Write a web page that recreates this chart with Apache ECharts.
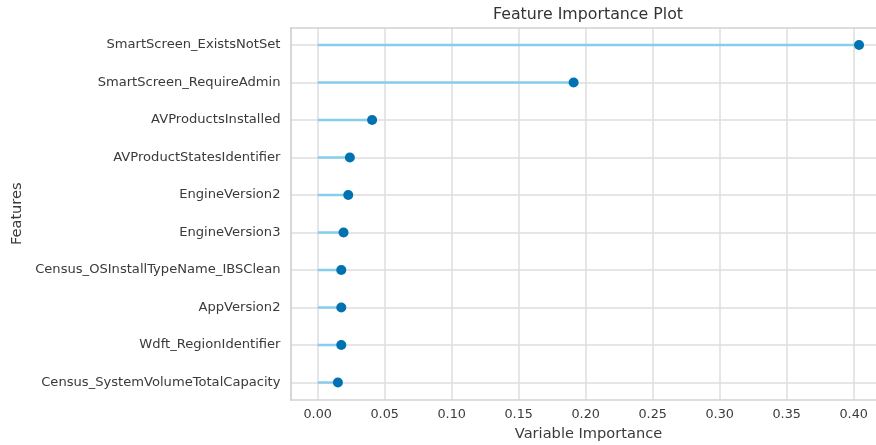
<!DOCTYPE html>
<html>
<head>
<meta charset="utf-8">
<title>Feature Importance Plot</title>
<script src="https://cdn.jsdelivr.net/npm/echarts@6/dist/echarts.min.js"></script>
<style>
  html, body { margin: 0; padding: 0; background: #fff; }
  #chart { width: 876px; height: 445px; }
</style>
</head>
<body>
<div id="chart"></div>
<script>
// features, top to bottom
const features = [
    'SmartScreen_ExistsNotSet',
    'SmartScreen_RequireAdmin',
    'AVProductsInstalled',
    'AVProductStatesIdentifier',
    'EngineVersion2',
    'EngineVersion3',
    'Census_OSInstallTypeName_IBSClean',
    'AppVersion2',
    'Wdft_RegionIdentifier',
    'Census_SystemVolumeTotalCapacity'
];
const importance = [0.404, 0.191, 0.0406, 0.0240, 0.0228, 0.0193, 0.0176, 0.0176, 0.0176, 0.0151];
const xTickLabels = ['0.00', '0.05', '0.10', '0.15', '0.20', '0.25', '0.30', '0.35', '0.40'];

const FONT = 'DejaVu Sans';
const TEXT = '#3a3a3a';
const GRID_LINE = '#dedede';
const FRAME = { show: true, onZero: false, lineStyle: { color: '#d2d2d2', width: 1.5 } };

// x range with matplotlib-like margins (plot runs past the right edge)
const xMin = -0.0203;
const xMax = 0.4245;

const chart = echarts.init(document.getElementById('chart'), null, { renderer: 'canvas' });

const option = {
    backgroundColor: '#fff',
    animation: false,
    textStyle: { fontFamily: FONT },
    title: {
        text: 'Feature Importance Plot',
        left: 588,
        top: 7,
        padding: 0,
        textAlign: 'center',
        textStyle: { fontFamily: FONT, fontSize: 15.8, fontWeight: 'normal', color: '#333' }
    },
    grid: [
        // frame + vertical grid lines
        { left: 290.5, width: 596, top: 28, height: 372, outerBoundsMode: 'none' },
        // rows
        { left: 290.5, width: 596, top: 45, height: 337.5, outerBoundsMode: 'none' }
    ],
    xAxis: [
        {
            type: 'value',
            gridIndex: 0,
            min: xMin,
            max: xMax,
            splitNumber: 9,
            axisLine: FRAME,
            axisTick: { show: false },
            splitLine: { show: true, lineStyle: { color: GRID_LINE, width: 1.5 } },
            axisLabel: {
                showMinLabel: false,
                showMaxLabel: false,
                margin: 8.5,
                fontSize: 12.8,
                color: TEXT,
                formatter: function (v) {
                    const i = Math.round(v / 0.05);
                    return Math.abs(i * 0.05 - v) < 1e-6 && xTickLabels[i] ? xTickLabels[i] : '';
                }
            },
            name: 'Variable Importance',
            nameLocation: 'middle',
            nameGap: 25,
            nameTextStyle: { fontSize: 14.6, color: TEXT }
        },
        {
            type: 'value',
            gridIndex: 1,
            min: xMin,
            max: xMax,
            show: false
        },
        {
            // top edge of the frame
            type: 'value',
            gridIndex: 0,
            position: 'top',
            min: xMin,
            max: xMax,
            axisLine: FRAME,
            axisTick: { show: false },
            axisLabel: { show: false },
            splitLine: { show: false }
        }
    ],
    yAxis: [
        {
            // left edge of the frame
            type: 'value',
            gridIndex: 0,
            min: 0,
            max: 1,
            axisLine: FRAME,
            axisTick: { show: false },
            axisLabel: { show: false },
            splitLine: { show: false }
        },
        {
            type: 'value',
            gridIndex: 1,
            min: 0,
            max: features.length - 1,
            interval: 1,
            inverse: true,
            axisLine: { show: false },
            axisTick: { show: false },
            splitLine: { show: true, lineStyle: { color: GRID_LINE, width: 1.5 } },
            axisLabel: {
                margin: 10,
                fontSize: 13.1,
                color: TEXT,
                formatter: function (v) { return features[v] || ''; }
            },
            name: 'Features',
            nameLocation: 'middle',
            nameGap: 264,
            nameTextStyle: { fontSize: 14.6, color: TEXT }
        }
    ],
    series: [
        {
            // stems
            type: 'custom',
            xAxisIndex: 1,
            yAxisIndex: 1,
            silent: true,
            data: importance.map((v, i) => [v, i]),
            renderItem: function (params, api) {
                const start = api.coord([0, api.value(1)]);
                const end = api.coord([api.value(0), api.value(1)]);
                return {
                    type: 'line',
                    shape: { x1: start[0], y1: start[1], x2: end[0], y2: end[1] },
                    style: { stroke: '#87ceeb', lineWidth: 2.5 }
                };
            },
            z: 2
        },
        {
            type: 'scatter',
            xAxisIndex: 1,
            yAxisIndex: 1,
            silent: true,
            symbol: 'circle',
            symbolSize: 10,
            itemStyle: { color: '#0072b2', opacity: 1 },
            data: importance.map((v, i) => [v, i]),
            z: 3
        }
    ]
};

chart.setOption(option);
</script>
</body>
</html>
